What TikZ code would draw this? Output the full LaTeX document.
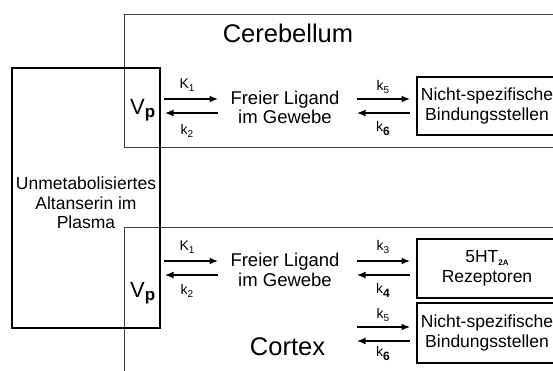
\documentclass[tikz,border=0pt]{standalone}
\usepackage{fontspec}
\setmainfont{Liberation Sans}
\usetikzlibrary{arrows.meta}
\newcommand\lsub[1]{\raisebox{-3.5pt}{\fontsize{10}{10}\selectfont #1}}
\newcommand\bsub[1]{\raisebox{-4pt}{\fontsize{12}{12}\selectfont\bfseries #1}}
\begin{document}
\begin{tikzpicture}[x=1pt,y=-1pt,
  region/.style={draw=black!75, line width=0.9pt},
  plasmabox/.style={draw=black, line width=1.6pt, minimum width=148, minimum height=260, inner sep=0pt},
  sitebox/.style={draw=black, line width=1.2pt, minimum width=140, inner sep=0pt,
    font=\fontsize{17.5}{19.5}\selectfont, align=center},
  txt/.style={font=\fontsize{17.5}{19.5}\selectfont, align=center, inner sep=0pt},
  ligand/.style={font=\fontsize{18.5}{19.5}\selectfont, align=center, inner sep=0pt},
  title/.style={font=\fontsize{25.5}{28}\selectfont, inner sep=0pt},
  rate/.style={font=\fontsize{14}{16}\selectfont, inner sep=0pt},
  vpnode/.style={anchor=base west, inner sep=0pt, font=\fontsize{22}{22}\selectfont},
  flow/.style={line width=1.4pt, -{Latex[length=8.5pt,width=7pt]}}]
\useasboundingbox (0,0) rectangle (553,370);

% compartments
\draw[region] (556,14) -- (124,14) -- (124,147) -- (556,147);
\draw[region] (556,227.5) -- (124,227.5) -- (124,372);

\node[title] (cereb) at (288,33) {Cerebellum};
\node[title] (cortex) at (287.5,347) {Cortex};

% plasma
\node[plasmabox] (plasma) at (86,198) {};
\node[txt] (plasmatext) at (86,203) {Unmetabolisiertes\\Altanserin im\\Plasma};

% Vp
\node[vpnode] (vp1) at (130,114) {V\raisebox{-3pt}{\fontsize{17}{17}\selectfont\bfseries p}};
\node[vpnode] (vp2) at (130,297) {V\raisebox{-3pt}{\fontsize{17}{17}\selectfont\bfseries p}};

% free ligand
\node[ligand] (fl1) at (285,107.5) {Freier Ligand\\im Gewebe};
\node[ligand] (fl2) at (285,270) {Freier Ligand\\im Gewebe};

% binding sites
\node[sitebox, minimum height=58] (ns1) at (487,106) {Nicht-spezifische\\Bindungsstellen};
\node[sitebox, minimum height=59] (rec) at (487,268.5) {5HT\raisebox{-3pt}{\fontsize{8}{8}\selectfont\bfseries 2A}\\Rezeptoren};
\node[sitebox, minimum height=60] (ns2) at (487,333) {Nicht-spezifische\\Bindungsstellen};

% arrow end points
\coordinate (p1a) at (164,99);   \coordinate (f1a) at (218,99);
\coordinate (f1b) at (218,113);  \coordinate (p1b) at (165,113);
\coordinate (f1c) at (357,99);   \coordinate (n1a) at (410,99);
\coordinate (n1b) at (410,113);  \coordinate (f1d) at (357,113);

\coordinate (p2a) at (164,261);  \coordinate (f2a) at (218,261);
\coordinate (f2b) at (218,275);  \coordinate (p2b) at (165,275);
\coordinate (f2c) at (357,261);  \coordinate (r2a) at (410,261);
\coordinate (r2b) at (410,275);  \coordinate (f2d) at (357,275);
\coordinate (f2e) at (357,327);  \coordinate (n2a) at (410,327);
\coordinate (n2b) at (410,341);  \coordinate (f2f) at (357,341);

\draw[flow] (p1a) -- (f1a);
\draw[flow] (f1b) -- (p1b);
\draw[flow] (f1c) -- (n1a);
\draw[flow] (n1b) -- (f1d);
\draw[flow] (p2a) -- (f2a);
\draw[flow] (f2b) -- (p2b);
\draw[flow] (f2c) -- (r2a);
\draw[flow] (r2b) -- (f2d);
\draw[flow] (f2e) -- (n2a);
\draw[flow] (n2b) -- (f2f);

% rate constants
\node[rate] (K1a) at (187,85) {K\lsub{1}};
\node[rate] (k2a) at (187,131) {k\lsub{2}};
\node[rate] (k5a) at (383,87) {k\lsub{5}};
\node[rate] (k6a) at (383,128) {k\bsub{6}};

\node[rate] (K1b) at (187,247) {K\lsub{1}};
\node[rate] (k2b) at (187,291) {k\lsub{2}};
\node[rate] (k3b) at (383,247) {k\lsub{3}};
\node[rate] (k4b) at (383,290) {k\bsub{4}};
\node[rate] (k5b) at (383,315) {k\lsub{5}};
\node[rate] (k6b) at (383,353) {k\bsub{6}};
\end{tikzpicture}
\end{document}
